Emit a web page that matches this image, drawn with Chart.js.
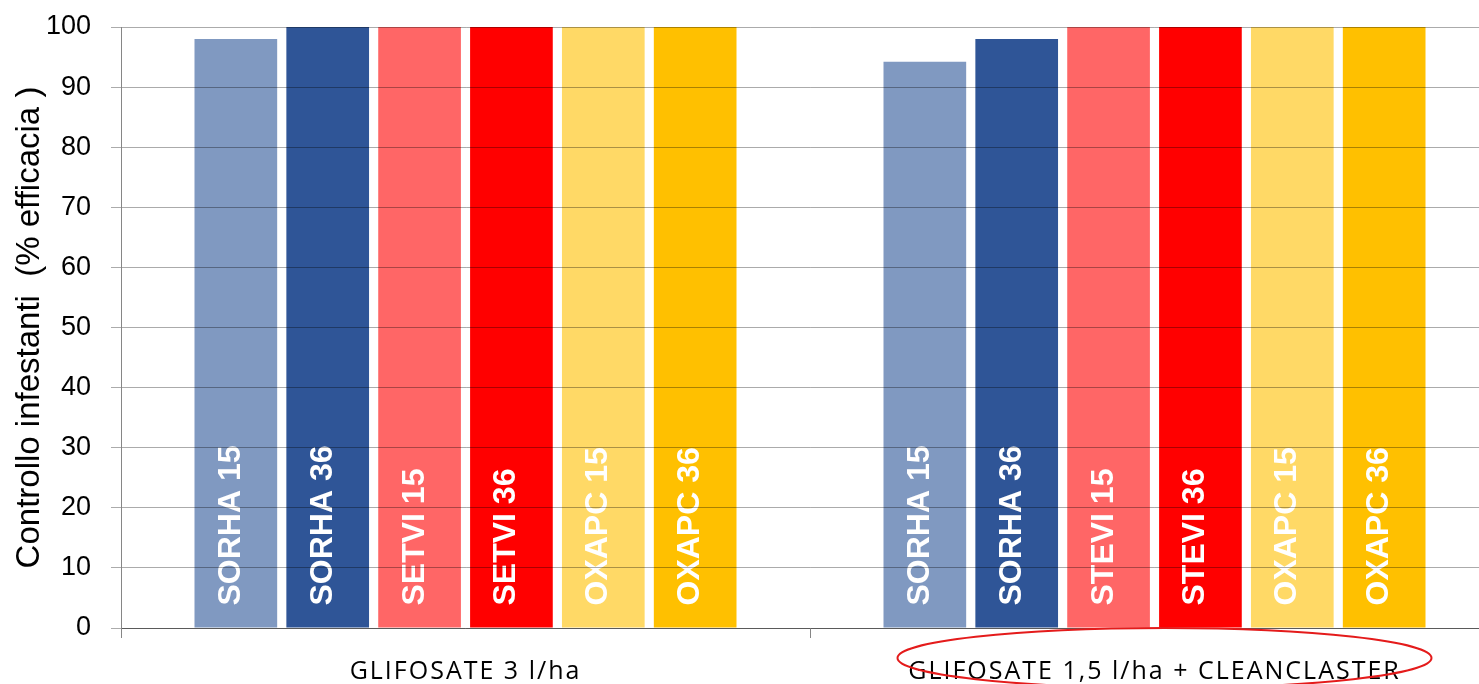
<!DOCTYPE html>
<html lang="en">
<head>
  <meta charset="UTF-8">
  <title>Controllo infestanti</title>
  <script src="https://cdn.jsdelivr.net/npm/chart.js"></script>
  <style>
    html, body { margin: 0; padding: 0; background: #fff; overflow: hidden; }
    #wrap { width: 1479px; height: 684px; overflow: hidden; }
  </style>
</head>
<body>
<div id="wrap">
  <canvas id="efficacyChart" width="1500" height="684"></canvas>
</div>

<script>
    const categories = ['GLIFOSATE 3 l/ha', 'GLIFOSATE 1,5 l/ha + CLEANCLASTER'];
    const seriesNames = ['SORHA 15', 'SORHA 36', 'SETVI 15', 'SETVI 36', 'OXAPC 15', 'OXAPC 36'];
    // labels written inside the bars, one list per category
    const barLabelsGroup1 = ['SORHA 15', 'SORHA 36', 'SETVI 15', 'SETVI 36', 'OXAPC 15', 'OXAPC 36'];
    const barLabelsGroup2 = ['SORHA 15', 'SORHA 36', 'STEVI 15', 'STEVI 36', 'OXAPC 15', 'OXAPC 36'];
    const sorha15 = [98, 94.2];
    const sorha36 = [100, 98];
    const setvi15 = [100, 100];
    const setvi36 = [100, 100];
    const oxapc15 = [100, 100];
    const oxapc36 = [100, 100];
    const seriesColors = ['#8099C1', '#2F5597', '#FF6666', '#FF0000', '#FFD966', '#FFC000'];
    const yTicks = [0, 10, 20, 30, 40, 50, 60, 70, 80, 90, 100];

    const seriesValues = [sorha15, sorha36, setvi15, setvi36, oxapc15, oxapc36];
    const barLabels = [barLabelsGroup1, barLabelsGroup2];

    // x tick labels are spaced out a bit (Calibri look); reset before the bars
    const spacing = {
      id: 'spacing',
      beforeDraw(chart) { chart.ctx.letterSpacing = '2px'; },
      beforeDatasetsDraw(chart) { chart.ctx.letterSpacing = '0px'; }
    };

    const barText = {
      id: 'barText',
      afterDatasetsDraw(chart) {
        const ctx = chart.ctx;
        ctx.save();
        ctx.fillStyle = '#ffffff';
        ctx.font = 'bold 32px "Liberation Sans", Arial, sans-serif';
        ctx.textAlign = 'left';
        ctx.textBaseline = 'alphabetic';
        chart.data.datasets.forEach((ds, di) => {
          chart.getDatasetMeta(di).data.forEach((bar, ci) => {
            ctx.save();
            ctx.translate(bar.x + 4, bar.base - 22);
            ctx.rotate(-Math.PI / 2);
            ctx.fillText(barLabels[ci][di], 0, 0);
            ctx.restore();
          });
        });
        ctx.restore();
      }
    };

    const ellipseMark = {
      id: 'ellipseMark',
      afterDraw(chart) {
        const x = chart.scales.x;
        const ctx = chart.ctx;
        ctx.save();
        ctx.strokeStyle = '#E41B1B';
        ctx.lineWidth = 2;
        ctx.beginPath();
        ctx.ellipse(x.getPixelForValue(1) + 10, chart.chartArea.bottom + 30, 267, 30, 0, 0, Math.PI * 2);
        ctx.stroke();
        ctx.restore();
      }
    };

    new Chart(document.getElementById('efficacyChart'), {
      type: 'bar',
      data: {
        labels: categories,
        datasets: seriesNames.map((name, i) => ({
          label: name,
          data: seriesValues[i],
          backgroundColor: seriesColors[i],
          borderWidth: 0,
          categoryPercentage: 0.8,
          barPercentage: 0.9
        }))
      },
      options: {
        responsive: false,
        animation: false,
        devicePixelRatio: 1,
        layout: { padding: { top: 27, left: 0, right: 1, bottom: 0 } },
        plugins: {
          legend: { display: false },
          tooltip: { enabled: false }
        },
        scales: {
          x: {
            grid: {
              display: true,
              drawOnChartArea: false,
              drawTicks: true,
              tickLength: 10,
              offset: true,
              color: '#868686'
            },
            border: { display: true, color: '#868686', width: 1 },
            ticks: {
              color: '#000',
              font: { family: '"Open Sans", sans-serif', size: 25 },
              padding: 19,
              maxRotation: 0
            },
            afterFit(scale) { scale.height = 56; }
          },
          y: {
            min: 0,
            max: 100,
            afterBuildTicks(scale) { scale.ticks = yTicks.map(v => ({ value: v })); },
            grid: {
              color: 'rgba(0,0,0,0.33)',
              tickLength: 10,
              z: 1
            },
            border: { display: true, color: '#868686', width: 1, z: 1 },
            ticks: {
              color: '#000',
              font: { family: '"Liberation Sans", Arial, sans-serif', size: 27 },
              padding: 20,
              z: 1
            },
            title: {
              display: true,
              text: 'Controllo infestanti  (% efficacia )',
              color: '#000',
              font: { family: '"Liberation Sans", Arial, sans-serif', size: 33 },
              padding: { top: 10, bottom: 0 }
            },
            afterFit(scale) {
              scale.width = 121;
              scale.paddingTop = 0;
              scale.paddingBottom = 0;
            }
          }
        }
      },
      plugins: [spacing, barText, ellipseMark]
    });
</script>
</body>
</html>
